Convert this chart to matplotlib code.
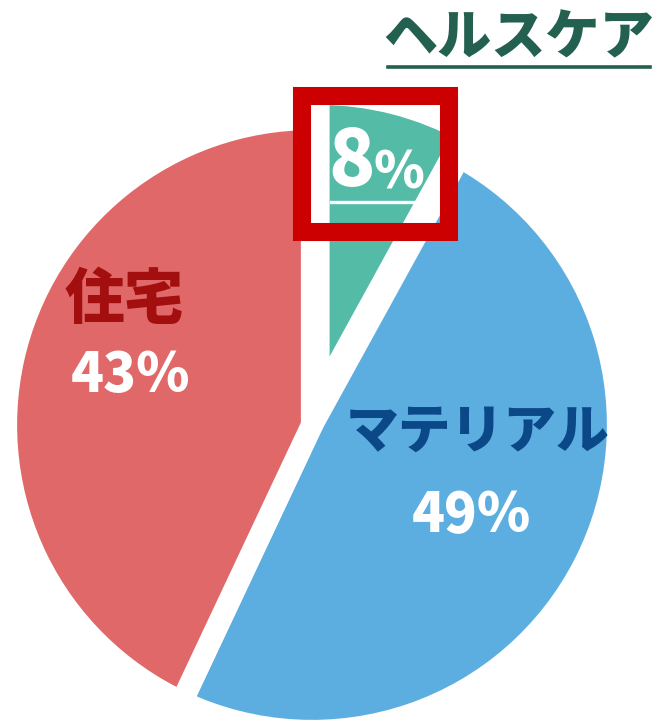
import matplotlib
matplotlib.use("Agg")
import matplotlib.pyplot as plt
from matplotlib.patches import Rectangle
from matplotlib.lines import Line2D

plt.rcParams['font.family'] = ['Noto Sans CJK JP', 'DejaVu Sans']

# Data
segments = ['ヘルスケア', 'マテリアル', '住宅']
shares = [8, 49, 43]
colors = ['#53BBA6', '#5DAEE0', '#E06868']
explode = [0.085, 0, 0]

W, H = 654, 721
fig = plt.figure(figsize=(W / 100, H / 100), dpi=100)
ax = fig.add_axes([0, 0, 1, 1])

# pie: radius 1 == 306 px, centre at pixel (312, 425)
R_PX, CX, CY = 306, 312, 425
ax.pie(shares, colors=colors, explode=explode, startangle=90, counterclock=False,
       radius=1, wedgeprops=dict(edgecolor='white', linewidth=16, joinstyle='miter'))
ax.set_aspect('auto')
ax.set_xlim(-CX / R_PX, (W - CX) / R_PX)
ax.set_ylim(-(H - CY) / R_PX, CY / R_PX)
ax.axis('off')


def fx(px):
    return px / W


def fy(py):
    return 1 - py / H


# title
fig.text(fx(519), fy(38), segments[0], ha='center', va='center', fontsize=39,
         fontweight='black', color='#24604F')
fig.add_artist(Line2D([fx(388), fx(650)], [fy(67), fy(67)], color='#24604F', lw=2.6))

# segment labels
fig.text(fx(124), fy(300), segments[2], ha='center', va='center', fontsize=43,
         fontweight='black', color='#A30E0E')
fig.text(fx(130), fy(376), f'{shares[2]}%', ha='center', va='center', fontsize=39,
         fontweight='black', color='white')
fig.text(fx(478), fy(432), segments[1], ha='center', va='center', fontsize=38,
         fontweight='black', color='#0A4888')
fig.text(fx(471), fy(516), f'{shares[1]}%', ha='center', va='center', fontsize=39,
         fontweight='black', color='white')

# 8% label with underline and red box
fig.text(fx(352), fy(163), f'{shares[0]}', ha='center', va='center', fontsize=55,
         fontweight='black', color='white')
fig.text(fx(399), fy(173), '%', ha='center', va='center', fontsize=37,
         fontweight='black', color='white')
fig.add_artist(Line2D([fx(331), fx(418)], [fy(202), fy(202)], color='white', lw=2.4))
fig.add_artist(Rectangle((fx(302), fy(232)), fx(449) - fx(302), fy(96) - fy(232),
                         transform=fig.transFigure, fill=False, edgecolor='#CC0000',
                         linewidth=13, joinstyle='miter'))

fig.savefig('out.png', dpi=100)
